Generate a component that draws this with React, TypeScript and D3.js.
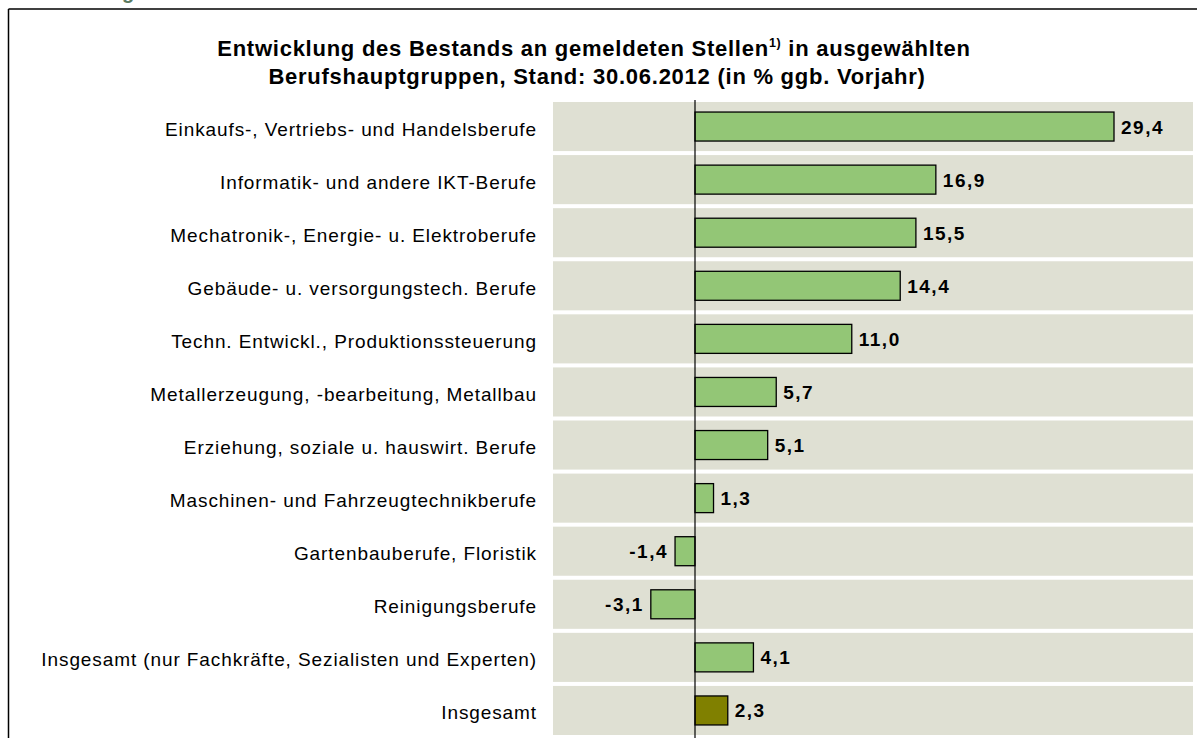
import React from "react";
import * as d3 from "d3";

const categories = [
  "Einkaufs-, Vertriebs- und Handelsberufe",
  "Informatik- und andere IKT-Berufe",
  "Mechatronik-, Energie- u. Elektroberufe",
  "Gebäude- u. versorgungstech. Berufe",
  "Techn. Entwickl., Produktionssteuerung",
  "Metallerzeugung, -bearbeitung, Metallbau",
  "Erziehung, soziale u. hauswirt. Berufe",
  "Maschinen- und Fahrzeugtechnikberufe",
  "Gartenbauberufe, Floristik",
  "Reinigungsberufe",
  "Insgesamt (nur Fachkräfte, Sezialisten und Experten)",
  "Insgesamt",
];
const values = [29.4, 16.9, 15.5, 14.4, 11.0, 5.7, 5.1, 1.3, -1.4, -3.1, 4.1, 2.3];
const highlight = [false, false, false, false, false, false, false, false, false, false, false, true];

const titleLine1 = "Entwicklung des Bestands an gemeldeten Stellen";
const titleSup = "1)";
const titleLine1b = " in ausgewählten";
const titleLine2 = "Berufshauptgruppen, Stand: 30.06.2012 (in % ggb. Vorjahr)";

export default function App() {
  const W = 1197;
  const H = 738;
  const x = d3.scaleLinear().domain([0, 29.4]).range([695, 1114]);
  const y = d3.scaleBand<string>().domain(categories).range([102, 739]).paddingInner(0);
  const bandH = y.bandwidth() - 4;
  const barH = 29;
  const fmt = (v: number) => d3.format(".1f")(v).replace(".", ",").replace("\u2212", "-");
  const font = "'Liberation Sans', Arial, sans-serif";

  return (
    <svg width={W} height={H} style={{ position: "absolute", left: 0, top: 0 }} fontFamily={font}>
      <rect x={0} y={0} width={W} height={H} fill="#fff" />
      {/* fragment of a heading above the frame, cut off as in the reference */}
      <text x={122} y={-1.5} fontSize={20} fontWeight="bold" fill="#5B7A60">g</text>
      {/* frame */}
      <line x1={8.5} y1={9} x2={W} y2={9} stroke="#000" strokeWidth={1.5} />
      <line x1={8.5} y1={9} x2={8.5} y2={H} stroke="#000" strokeWidth={1.5} />
      {/* title */}
      <text x={594} y={56} textAnchor="middle" fontSize={22} fontWeight="bold" letterSpacing={0.75} fill="#000">
        {titleLine1}
        <tspan fontSize={12.5} dy={-9}>{titleSup}</tspan>
        <tspan dy={9}>{titleLine1b}</tspan>
      </text>
      <text x={597} y={84} textAnchor="middle" fontSize={22} fontWeight="bold" letterSpacing={0.75} fill="#000">
        {titleLine2}
      </text>
      {/* bands */}
      {categories.map((c) => (
        <rect key={"b" + c} x={553} y={y(c)!} width={640} height={bandH} fill="#DFE0D3" />
      ))}
      {/* labels */}
      {categories.map((c) => (
        <text key={"l" + c} x={537} y={y(c)! + bandH / 2 + 9} textAnchor="end" fontSize={19} letterSpacing={0.9} fill="#000">
          {c}
        </text>
      ))}
      {/* bars */}
      {categories.map((c, i) => {
        const v = values[i];
        const x0 = x(Math.min(0, v));
        const x1 = x(Math.max(0, v));
        const cy = y(c)! + bandH / 2;
        return (
          <g key={"r" + c}>
            <rect x={x0} y={cy - barH / 2} width={x1 - x0} height={barH}
              fill={highlight[i] ? "#808000" : "#93C676"} stroke="#000" strokeWidth={1.3} />
            <text x={v >= 0 ? x1 + 7 : x0 - 7} y={cy + 7} textAnchor={v >= 0 ? "start" : "end"}
              fontSize={19} fontWeight="bold" letterSpacing={1.5} fill="#000">
              {fmt(v)}
            </text>
          </g>
        );
      })}
      {/* zero line */}
      <line x1={x(0)} y1={100} x2={x(0)} y2={H} stroke="#000" strokeWidth={1.2} />
    </svg>
  );
}
